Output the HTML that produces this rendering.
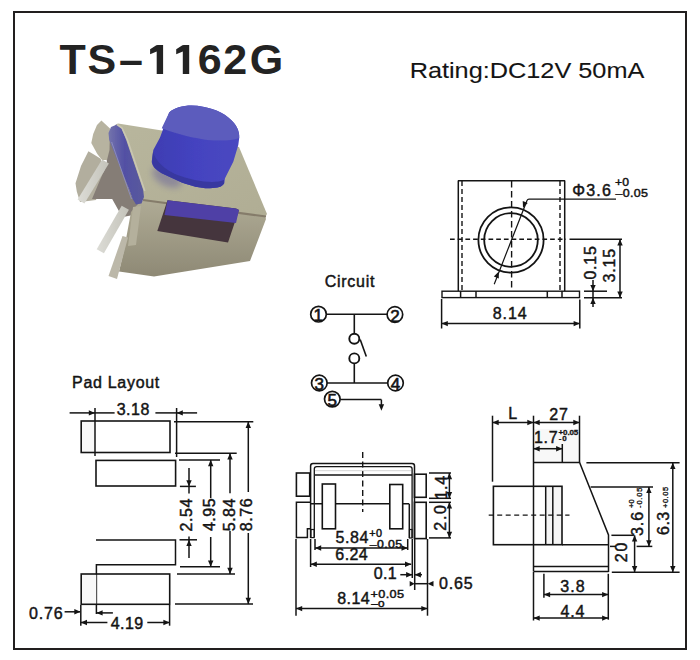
<!DOCTYPE html>
<html><head><meta charset="utf-8"><style>
html,body{margin:0;padding:0;background:#fff;}
svg{display:block;}
text{font-family:"Liberation Sans",sans-serif;fill:#141414;}
</style></head><body>
<svg width="700" height="660" viewBox="0 0 700 660">
<rect width="700" height="660" fill="#fff"/>
<defs>
<filter id="pb" x="-5%" y="-5%" width="110%" height="110%"><feGaussianBlur stdDeviation="0.75"/></filter>
<filter id="sb" x="-50%" y="-50%" width="200%" height="200%"><feGaussianBlur stdDeviation="3"/></filter>
<linearGradient id="topface" x1="0" y1="0" x2="1" y2="1">
<stop offset="0" stop-color="#b8b69d"/><stop offset="1" stop-color="#b0ad94"/></linearGradient>
<linearGradient id="frontface" x1="0" y1="0" x2="0" y2="1">
<stop offset="0" stop-color="#afab95"/><stop offset="1" stop-color="#8e8975"/></linearGradient>
<linearGradient id="btnside" x1="0" y1="0" x2="1" y2="0">
<stop offset="0" stop-color="#3e3db2"/><stop offset="0.5" stop-color="#4443c0"/><stop offset="1" stop-color="#4a48c0"/></linearGradient>
<linearGradient id="strip" x1="0" y1="0" x2="1" y2="0">
<stop offset="0" stop-color="#7474ac"/><stop offset="0.45" stop-color="#5250a4"/><stop offset="1" stop-color="#5a5a9c"/></linearGradient>
<linearGradient id="pin" x1="0" y1="0" x2="1" y2="0">
<stop offset="0" stop-color="#dcdcd6"/><stop offset="1" stop-color="#c4c3ba"/></linearGradient>
</defs>
<g filter="url(#pb)">
<!-- lower-left tab -->
<polygon points="88.4,151.2 93.9,154.6 100.7,158.7 104,175 96,200 80,202 76.8,191.4 75.5,183.2 81,166" fill="#b2ae9e"/>
<!-- left side face (dark) -->
<polygon points="107,129 133,199 140,204 133,215 123,217 118.6,210.5 112.2,199 92,199 100,180 107,164 106,150" fill="#857d76"/>
<!-- back upper-left tab -->
<polygon points="101.4,120.5 110,128.6 109.5,150 107,160 102,160 97.3,154 91.3,143 93.2,134.1 97,125" fill="#b7b3a0"/>
<!-- top face -->
<polygon points="115,125 118,123.5 165,131 205,138 239,147 267,214 265,217 143,200" fill="url(#topface)"/>
<!-- front face -->
<polygon points="143,200 265,216 266,219 250,261 154,276.5 119,271.5 124,250 131,212 138,204" fill="url(#frontface)"/>
<!-- front-left vertical edge highlight -->
<polygon points="133,207 141,206 136,245 128,246" fill="#b4b09c"/>
<!-- fold line -->
<polyline points="143,200 266,216.5" fill="none" stroke="#857c6b" stroke-width="2.2"/>
<!-- window -->
<polygon points="167.5,200.2 236,208.5 239,210 228,242.6 157.3,230.9" fill="#45353c"/>
<polygon points="167.5,200.2 236,208.5 239,210 236,223 164.5,215" fill="#4f40a6"/>
<!-- blue strip on left face -->
<polygon points="108.5,133 111,127 117,124.5 121,127 126.2,140 143.2,190 144,197 141.5,203.5 136,204.5 132.6,199 129.4,190 109.2,140" fill="url(#strip)"/>
<polyline points="111.6,142 131.5,199" fill="none" stroke="#8e90c0" stroke-width="0.9"/>
<polyline points="117,124.5 122,128 127.5,140 144.8,191" fill="none" stroke="#c9c6b2" stroke-width="1.6"/>

<!-- pins -->
<polygon points="102.1,159.4 108.9,163.6 84.4,203.6 77.6,199.4" fill="url(#pin)"/>
<polygon points="121.7,205.8 128.9,209.8 103.9,253.3 96.7,249.3" fill="url(#pin)"/>
<!-- lower vertical tab -->
<polygon points="122.5,236 128,237.5 117,279 108.5,276" fill="#bcb8a9"/>
<ellipse cx="167" cy="177" rx="16" ry="9" fill="#817d9a" opacity="0.75" filter="url(#sb)" transform="rotate(28 167 177)"/>
<!-- button -->
<path d="M169.2,112.5 C176,106 190,104 203,106.7 C215,108.5 228,115 234,123 C239,129 239.5,135 239.2,138 L238.3,145 L233.3,161.7 L225,178.3 L224.2,183.3 C222,187 218,188 210,188.3 C200,188.5 192,186 181.7,182.5 L161.7,173.3 C156,170 152,166 151.7,161.7 L153.3,150 L160,137.5 Z" fill="url(#btnside)"/>
<path d="M169.2,112.5 C176,106 190,104 203,106.7 C215,108.5 228,115 234,123 C239,129 239.5,135 239.2,138 C232,141 220,141 206.7,140 C195,138 182,136 161.7,128.3 Z" fill="#5b5bbd"/>
<path d="M153,152 C152,160 152,166 156,169 L161.7,173.3 L181.7,182.5 C192,186 200,188.5 210,188.3 C218,188 222,187 224.2,183.3 L224,180 C215,184 195,182 175,174 C165,169 157,163 153,152 Z" fill="#3838a0"/>
</g>

<rect x="14" y="12" width="672" height="637" fill="none" stroke="#221f1f" stroke-width="2"/>
<text x="59.4 87.6 119.0" y="74.3" font-size="43" font-weight="bold" style="fill:#232323">TS&#8211;</text>
<text x="197.8 223.2 249.7" y="74.3" font-size="43" font-weight="bold" style="fill:#232323">62G</text>
<path transform="translate(0 0)" d="M150.1,49.2 L156.3,45.3 Q157,44.9 157.8,44.9 H163.1 V74.0 H156.7 V51.4 L150.1,54.3 Z" fill="#232323"/>
<path transform="translate(26.1 0)" d="M150.1,49.2 L156.3,45.3 Q157,44.9 157.8,44.9 H163.1 V74.0 H156.7 V51.4 L150.1,54.3 Z" fill="#232323"/>
<text x="0" y="0" font-size="22" letter-spacing="0.00" stroke="#141414" stroke-width="0.1" transform="translate(409.67 78.20) scale(1.15 1)">Rating:DC12V 50mA</text>
<line x1="458.00" y1="180.70" x2="565.00" y2="180.70" stroke="#141414" stroke-width="1.5"/>
<line x1="458.30" y1="180.50" x2="458.30" y2="291.00" stroke="#141414" stroke-width="1.5"/>
<line x1="564.70" y1="180.50" x2="564.70" y2="291.00" stroke="#141414" stroke-width="1.5"/>
<line x1="462.00" y1="181.00" x2="462.00" y2="291.00" stroke="#141414" stroke-width="1.4" stroke-dasharray="5,3"/>
<line x1="560.00" y1="181.00" x2="560.00" y2="291.00" stroke="#141414" stroke-width="1.4" stroke-dasharray="5,3"/>
<line x1="511.60" y1="181.00" x2="511.60" y2="291.00" stroke="#141414" stroke-width="1.4" stroke-dasharray="6.5,3.5"/>
<line x1="450.00" y1="239.30" x2="566.00" y2="239.30" stroke="#141414" stroke-width="1.4" stroke-dasharray="4.7,3"/>
<line x1="569.50" y1="239.30" x2="622.00" y2="239.30" stroke="#141414" stroke-width="1.5"/>
<circle cx="511" cy="240" r="32.6" fill="none" stroke="#141414" stroke-width="1.8"/>
<circle cx="511" cy="240" r="26.8" fill="none" stroke="#141414" stroke-width="1.8"/>
<rect x="442" y="291.2" width="137.50" height="6.40" fill="none" stroke="#141414" stroke-width="1.4"/>
<line x1="460.60" y1="291.00" x2="460.60" y2="297.50" stroke="#141414" stroke-width="1.5"/>
<line x1="476.00" y1="291.00" x2="476.00" y2="297.50" stroke="#141414" stroke-width="1.5"/>
<line x1="547.30" y1="291.00" x2="547.30" y2="297.50" stroke="#141414" stroke-width="1.5"/>
<line x1="562.00" y1="291.00" x2="562.00" y2="297.50" stroke="#141414" stroke-width="1.5"/>
<line x1="441.60" y1="299.00" x2="441.60" y2="328.50" stroke="#141414" stroke-width="1.5"/>
<line x1="579.80" y1="299.50" x2="579.80" y2="328.50" stroke="#141414" stroke-width="1.5"/>
<line x1="441.60" y1="323.60" x2="579.80" y2="323.60" stroke="#141414" stroke-width="1.5"/>
<polygon points="441.60,323.60 447.80,320.90 447.80,326.30" fill="#141414"/>
<polygon points="579.80,323.60 573.60,326.30 573.60,320.90" fill="#141414"/>
<text x="0" y="0" font-size="16" letter-spacing="0.87" stroke="#141414" stroke-width="0.45" transform="translate(492.85 319.29) scale(1.0 1)">8.14</text>
<path d="M494.2,284.2 L527,200.5 Q527.6,199.2 529,199.2 L616,199.2" fill="none" stroke="#141414" stroke-width="1.2"/>
<polygon points="523.00,207.80 522.73,201.04 527.77,203.00" fill="#141414"/>
<polygon points="498.60,271.80 498.87,278.56 493.83,276.60" fill="#141414"/>
<text x="0" y="0" font-size="16" letter-spacing="1.20" stroke="#141414" stroke-width="0.45" transform="translate(572.24 195.79) scale(1.0 1)">Φ3.6</text>
<text x="0" y="0" font-size="11.158068965517216" letter-spacing="0.30" stroke="#141414" stroke-width="0.45" transform="translate(614.96 186.14) scale(1.0879463902173625 1)">+0</text>
<text x="0" y="0" font-size="11.299310344827594" letter-spacing="0.30" stroke="#141414" stroke-width="0.45" transform="translate(615.55 197.34) scale(1.1033957956815357 1)">–0.05</text>
<line x1="620.00" y1="239.30" x2="620.00" y2="297.80" stroke="#141414" stroke-width="1.5"/>
<polygon points="620.00,239.30 622.70,245.50 617.30,245.50" fill="#141414"/>
<polygon points="620.00,297.80 617.30,291.60 622.70,291.60" fill="#141414"/>
<line x1="584.00" y1="291.20" x2="607.00" y2="291.20" stroke="#141414" stroke-width="1.5"/>
<line x1="584.00" y1="297.80" x2="622.00" y2="297.80" stroke="#141414" stroke-width="1.5"/>
<line x1="593.00" y1="280.00" x2="593.00" y2="307.00" stroke="#141414" stroke-width="1.5"/>
<polygon points="593.00,291.20 590.30,285.00 595.70,285.00" fill="#141414"/>
<polygon points="593.00,297.80 595.70,304.00 590.30,304.00" fill="#141414"/>
<text x="595.69" y="279.57" font-size="16" letter-spacing="0.75" stroke="#141414" stroke-width="0.45" transform="rotate(-90 595.69 279.57)">0.15</text>
<text x="614.59" y="282.56" font-size="16" letter-spacing="0.85" stroke="#141414" stroke-width="0.45" transform="rotate(-90 614.59 282.56)">3.15</text>
<text x="0" y="0" font-size="16" letter-spacing="0.75" stroke="#141414" stroke-width="0.45" transform="translate(324.64 287.39) scale(1.0 1)">Circuit</text>
<circle cx="318.5" cy="314.2" r="7.8" fill="none" stroke="#141414" stroke-width="1.7"/>
<text x="313.54" y="321.30" font-size="17" stroke="#141414" stroke-width="0.6">1</text>
<circle cx="394.9" cy="314.5" r="7.8" fill="none" stroke="#141414" stroke-width="1.7"/>
<text x="390.17" y="321.60" font-size="17" stroke="#141414" stroke-width="0.6">2</text>
<circle cx="319.3" cy="383" r="7.8" fill="none" stroke="#141414" stroke-width="1.7"/>
<text x="314.62" y="390.10" font-size="17" stroke="#141414" stroke-width="0.6">3</text>
<circle cx="395.5" cy="383" r="7.8" fill="none" stroke="#141414" stroke-width="1.7"/>
<text x="390.83" y="390.10" font-size="17" stroke="#141414" stroke-width="0.6">4</text>
<circle cx="332.3" cy="399.1" r="7.8" fill="none" stroke="#141414" stroke-width="1.7"/>
<text x="327.59" y="406.20" font-size="17" stroke="#141414" stroke-width="0.6">5</text>
<line x1="326.20" y1="314.30" x2="387.20" y2="314.30" stroke="#141414" stroke-width="1.5"/>
<line x1="354.30" y1="314.00" x2="354.30" y2="333.50" stroke="#141414" stroke-width="1.6"/>
<circle cx="354.3" cy="338.7" r="5" fill="none" stroke="#141414" stroke-width="1.9"/>
<circle cx="354.3" cy="358.4" r="5" fill="none" stroke="#141414" stroke-width="1.9"/>
<line x1="360.20" y1="339.50" x2="366.30" y2="356.40" stroke="#141414" stroke-width="1.6"/>
<line x1="354.30" y1="363.40" x2="354.30" y2="383.00" stroke="#141414" stroke-width="1.6"/>
<line x1="327.00" y1="383.00" x2="387.80" y2="383.00" stroke="#141414" stroke-width="1.5"/>
<line x1="340.20" y1="399.60" x2="381.40" y2="399.60" stroke="#141414" stroke-width="1.5"/>
<line x1="381.40" y1="399.60" x2="381.40" y2="405.00" stroke="#141414" stroke-width="1.5"/>
<polygon points="381.40,410.80 378.70,404.30 384.10,404.30" fill="#141414"/>
<text x="0" y="0" font-size="16" letter-spacing="0.70" stroke="#141414" stroke-width="0.45" transform="translate(72.04 388.30) scale(1.0 1)">Pad Layout</text>
<rect x="81.5" y="421.5" width="13.5" height="30.5" fill="#f8f8f8"/>
<rect x="81.2" y="421" width="88.80" height="31.50" fill="none" stroke="#141414" stroke-width="1.6"/>
<line x1="95.00" y1="408.00" x2="95.00" y2="456.00" stroke="#141414" stroke-width="1.5"/>
<rect x="96" y="460.4" width="79.60" height="25.60" fill="none" stroke="#141414" stroke-width="1.6"/>
<polyline points="96.00,540.00 175.50,540.00 175.50,564.70 96.40,564.70 96.40,614.00" fill="none" stroke="#141414" stroke-width="1.5" />
<rect x="81.5" y="574.5" width="14.8" height="29.5" fill="#f8f8f8"/>
<rect x="81.2" y="574" width="88.50" height="30.30" fill="none" stroke="#141414" stroke-width="1.6"/>
<line x1="69.60" y1="412.90" x2="95.00" y2="412.90" stroke="#141414" stroke-width="1.5"/>
<polygon points="95.00,412.90 88.80,415.60 88.80,410.20" fill="#141414"/>
<line x1="176.60" y1="408.00" x2="176.60" y2="457.00" stroke="#141414" stroke-width="1.5"/>
<line x1="176.60" y1="412.90" x2="197.10" y2="412.90" stroke="#141414" stroke-width="1.5"/>
<polygon points="176.60,412.90 182.80,410.20 182.80,415.60" fill="#141414"/>
<text x="0" y="0" font-size="16" letter-spacing="0.52" stroke="#141414" stroke-width="0.45" transform="translate(116.64 415.29) scale(1.0 1)">3.18</text>
<line x1="95.00" y1="412.90" x2="114.60" y2="412.90" stroke="#141414" stroke-width="1.5"/>
<line x1="155.40" y1="412.90" x2="176.60" y2="412.90" stroke="#141414" stroke-width="1.5"/>
<line x1="174.00" y1="421.70" x2="253.30" y2="421.70" stroke="#141414" stroke-width="1.5"/>
<line x1="175.00" y1="453.30" x2="236.70" y2="453.30" stroke="#141414" stroke-width="1.5"/>
<line x1="179.00" y1="460.00" x2="220.00" y2="460.00" stroke="#141414" stroke-width="1.5"/>
<line x1="179.90" y1="486.40" x2="195.90" y2="486.40" stroke="#141414" stroke-width="1.5"/>
<line x1="179.50" y1="539.80" x2="197.00" y2="539.80" stroke="#141414" stroke-width="1.5"/>
<line x1="180.00" y1="566.70" x2="220.00" y2="566.70" stroke="#141414" stroke-width="1.5"/>
<line x1="177.00" y1="574.00" x2="235.00" y2="574.00" stroke="#141414" stroke-width="1.5"/>
<line x1="175.00" y1="604.00" x2="253.00" y2="604.00" stroke="#141414" stroke-width="1.5"/>
<line x1="248.30" y1="421.70" x2="248.30" y2="492.00" stroke="#141414" stroke-width="1.5"/>
<line x1="248.30" y1="533.00" x2="248.30" y2="604.00" stroke="#141414" stroke-width="1.5"/>
<polygon points="248.30,421.70 251.00,427.90 245.60,427.90" fill="#141414"/>
<polygon points="248.30,604.00 245.60,597.80 251.00,597.80" fill="#141414"/>
<line x1="230.00" y1="453.30" x2="230.00" y2="493.30" stroke="#141414" stroke-width="1.5"/>
<line x1="230.00" y1="531.00" x2="230.00" y2="574.00" stroke="#141414" stroke-width="1.5"/>
<polygon points="230.00,453.30 232.70,459.50 227.30,459.50" fill="#141414"/>
<polygon points="230.00,574.00 227.30,567.80 232.70,567.80" fill="#141414"/>
<line x1="210.70" y1="460.00" x2="210.70" y2="498.20" stroke="#141414" stroke-width="1.5"/>
<line x1="210.70" y1="537.00" x2="210.70" y2="566.70" stroke="#141414" stroke-width="1.5"/>
<polygon points="210.70,460.00 213.40,466.20 208.00,466.20" fill="#141414"/>
<polygon points="210.70,566.70 208.00,560.50 213.40,560.50" fill="#141414"/>
<line x1="189.00" y1="468.00" x2="189.00" y2="493.50" stroke="#141414" stroke-width="1.5"/>
<polygon points="189.00,486.40 186.30,480.20 191.70,480.20" fill="#141414"/>
<line x1="189.00" y1="536.50" x2="189.00" y2="558.00" stroke="#141414" stroke-width="1.5"/>
<polygon points="189.00,539.80 191.70,546.00 186.30,546.00" fill="#141414"/>
<text x="192.19" y="531.45" font-size="16" letter-spacing="0.58" stroke="#141414" stroke-width="0.45" transform="rotate(-90 192.19 531.45)">2.54</text>
<text x="215.09" y="531.02" font-size="16" letter-spacing="0.50" stroke="#141414" stroke-width="0.45" transform="rotate(-90 215.09 531.02)">4.95</text>
<text x="235.19" y="531.29" font-size="16" letter-spacing="0.52" stroke="#141414" stroke-width="0.45" transform="rotate(-90 235.19 531.29)">5.84</text>
<text x="251.99" y="531.35" font-size="16" letter-spacing="0.62" stroke="#141414" stroke-width="0.45" transform="rotate(-90 251.99 531.35)">8.76</text>
<line x1="80.80" y1="605.00" x2="80.80" y2="625.70" stroke="#141414" stroke-width="1.5"/>
<line x1="169.60" y1="605.00" x2="169.60" y2="625.70" stroke="#141414" stroke-width="1.5"/>
<line x1="80.80" y1="622.50" x2="107.40" y2="622.50" stroke="#141414" stroke-width="1.5"/>
<polygon points="80.80,622.50 87.00,619.80 87.00,625.20" fill="#141414"/>
<line x1="147.30" y1="622.50" x2="169.60" y2="622.50" stroke="#141414" stroke-width="1.5"/>
<polygon points="169.60,622.50 163.40,625.20 163.40,619.80" fill="#141414"/>
<text x="0" y="0" font-size="16" letter-spacing="0.43" stroke="#141414" stroke-width="0.45" transform="translate(110.78 629.39) scale(1.0 1)">4.19</text>
<line x1="64.60" y1="611.80" x2="80.00" y2="611.80" stroke="#141414" stroke-width="1.5"/>
<polygon points="80.50,611.80 74.30,614.50 74.30,609.10" fill="#141414"/>
<line x1="96.40" y1="612.90" x2="112.90" y2="612.90" stroke="#141414" stroke-width="1.5"/>
<polygon points="96.40,612.90 102.60,610.20 102.60,615.60" fill="#141414"/>
<text x="0" y="0" font-size="16" letter-spacing="0.83" stroke="#141414" stroke-width="0.45" transform="translate(29.12 619.09) scale(1.0 1)">0.76</text>
<line x1="362.70" y1="452.00" x2="362.70" y2="512.00" stroke="#141414" stroke-width="1.4" stroke-dasharray="6,3.5"/>
<path d="M310.6,538 V466 Q310.6,463.6 313,463.6 H412 Q414.5,463.6 414.5,466 V538.6" fill="none" stroke="#141414" stroke-width="1.5"/>
<path d="M314.3,537 V469 Q314.3,466.6 316.7,466.6 H409.7 Q412.1,466.6 412.1,469 V538" fill="none" stroke="#141414" stroke-width="1.3"/>
<line x1="315.00" y1="470.70" x2="411.00" y2="470.70" stroke="#c8c8c8" stroke-width="0.8"/>
<line x1="315.00" y1="475.00" x2="412.00" y2="475.00" stroke="#141414" stroke-width="1.5"/>
<line x1="409.30" y1="504.00" x2="409.30" y2="538.00" stroke="#141414" stroke-width="1.5"/>
<rect x="296.4" y="473" width="13.30" height="23.20" fill="none" stroke="#141414" stroke-width="1.6"/>
<polyline points="310.50,502.30 296.40,502.30 296.40,537.60 307.40,537.60 307.40,528.80 310.50,528.80" fill="none" stroke="#141414" stroke-width="1.5" />
<rect x="310.9" y="529.5" width="3.30" height="8.10" fill="none" stroke="#141414" stroke-width="1.2"/>
<line x1="310.50" y1="503.80" x2="409.30" y2="503.80" stroke="#141414" stroke-width="1.5"/>
<rect x="322.3" y="484" width="13.20" height="44.80" fill="#fff" stroke="#141414" stroke-width="1.6"/>
<rect x="389.8" y="484.5" width="12.90" height="44.30" fill="#fff" stroke="#141414" stroke-width="1.6"/>
<rect x="414.5" y="474.2" width="11.70" height="23.10" fill="none" stroke="#141414" stroke-width="1.6"/>
<rect x="414.5" y="502.3" width="11.70" height="36.30" fill="none" stroke="#141414" stroke-width="1.6"/>
<rect x="409.5" y="529.5" width="2.60" height="8.50" fill="none" stroke="#141414" stroke-width="1.2"/>
<line x1="429.00" y1="473.00" x2="451.00" y2="473.00" stroke="#141414" stroke-width="1.5"/>
<line x1="429.00" y1="498.30" x2="451.00" y2="498.30" stroke="#141414" stroke-width="1.5"/>
<line x1="429.00" y1="502.30" x2="451.00" y2="502.30" stroke="#141414" stroke-width="1.5"/>
<line x1="429.00" y1="537.90" x2="451.00" y2="537.90" stroke="#141414" stroke-width="1.5"/>
<line x1="449.40" y1="473.00" x2="449.40" y2="498.30" stroke="#141414" stroke-width="1.5"/>
<polygon points="449.40,473.00 452.10,479.20 446.70,479.20" fill="#141414"/>
<polygon points="449.40,498.30 446.70,492.10 452.10,492.10" fill="#141414"/>
<line x1="449.40" y1="502.30" x2="449.40" y2="537.90" stroke="#141414" stroke-width="1.5"/>
<polygon points="449.40,502.30 452.10,508.50 446.70,508.50" fill="#141414"/>
<polygon points="449.40,537.90 446.70,531.70 452.10,531.70" fill="#141414"/>
<text x="446.95" y="499.57" font-size="16" letter-spacing="0.77" stroke="#141414" stroke-width="0.45" transform="rotate(-90 446.95 499.57)">1.4</text>
<text x="446.09" y="530.65" font-size="16" letter-spacing="1.64" stroke="#141414" stroke-width="0.45" transform="rotate(-90 446.09 530.65)">2.0</text>
<line x1="296.00" y1="539.00" x2="296.00" y2="615.70" stroke="#141414" stroke-width="1.5"/>
<line x1="310.60" y1="539.00" x2="310.60" y2="567.00" stroke="#141414" stroke-width="1.5"/>
<line x1="315.00" y1="539.00" x2="315.00" y2="550.00" stroke="#141414" stroke-width="1.5"/>
<line x1="407.70" y1="539.00" x2="407.70" y2="550.00" stroke="#141414" stroke-width="1.5"/>
<line x1="412.30" y1="539.00" x2="412.30" y2="578.00" stroke="#141414" stroke-width="1.5"/>
<line x1="414.70" y1="539.00" x2="414.70" y2="590.00" stroke="#141414" stroke-width="1.5"/>
<line x1="427.50" y1="539.00" x2="427.50" y2="615.70" stroke="#141414" stroke-width="1.5"/>
<line x1="315.00" y1="548.00" x2="407.70" y2="548.00" stroke="#141414" stroke-width="1.5"/>
<polygon points="315.00,548.00 321.20,545.30 321.20,550.70" fill="#141414"/>
<polygon points="407.70,548.00 401.50,550.70 401.50,545.30" fill="#141414"/>
<text x="0" y="0" font-size="16" letter-spacing="0.56" stroke="#141414" stroke-width="0.45" transform="translate(335.51 543.39) scale(1.0 1)">5.84</text>
<text x="0" y="0" font-size="10.028137931034482" letter-spacing="0.30" stroke="#141414" stroke-width="0.45" transform="translate(369.32 537.15) scale(1.0781354262654528 1)">+0</text>
<text x="0" y="0" font-size="10.028137931034482" letter-spacing="0.30" stroke="#141414" stroke-width="0.45" transform="translate(369.85 548.05) scale(1.225181185012622 1)">–0.05</text>
<line x1="310.60" y1="564.30" x2="411.20" y2="564.30" stroke="#141414" stroke-width="1.5"/>
<polygon points="310.60,564.30 316.80,561.60 316.80,567.00" fill="#141414"/>
<polygon points="411.20,564.30 405.00,567.00 405.00,561.60" fill="#141414"/>
<text x="0" y="0" font-size="16" letter-spacing="0.41" stroke="#141414" stroke-width="0.45" transform="translate(335.34 560.49) scale(1.0 1)">6.24</text>
<line x1="400.30" y1="574.70" x2="412.30" y2="574.70" stroke="#141414" stroke-width="1.5"/>
<polygon points="412.30,574.70 406.10,577.40 406.10,572.00" fill="#141414"/>
<line x1="414.70" y1="574.70" x2="422.00" y2="574.70" stroke="#141414" stroke-width="1.5"/>
<polygon points="414.70,574.70 420.90,572.00 420.90,577.40" fill="#141414"/>
<text x="0" y="0" font-size="16" letter-spacing="0.38" stroke="#141414" stroke-width="0.45" transform="translate(373.72 579.39) scale(1.0 1)">0.1</text>
<line x1="414.70" y1="583.70" x2="427.50" y2="583.70" stroke="#141414" stroke-width="1.5"/>
<polygon points="414.70,583.70 409.70,586.40 409.70,581.00" fill="#141414"/>
<polygon points="427.50,583.70 433.50,581.00 433.50,586.40" fill="#141414"/>
<text x="0" y="0" font-size="16" letter-spacing="0.82" stroke="#141414" stroke-width="0.45" transform="translate(439.12 588.99) scale(1.0 1)">0.65</text>
<line x1="296.00" y1="608.60" x2="427.50" y2="608.60" stroke="#141414" stroke-width="1.5"/>
<polygon points="296.00,608.60 302.20,605.90 302.20,611.30" fill="#141414"/>
<polygon points="427.50,608.60 421.30,611.30 421.30,605.90" fill="#141414"/>
<text x="0" y="0" font-size="16" letter-spacing="0.41" stroke="#141414" stroke-width="0.45" transform="translate(337.25 603.99) scale(1.0 1)">8.14</text>
<text x="0" y="0" font-size="10.875586206896584" letter-spacing="0.30" stroke="#141414" stroke-width="0.45" transform="translate(370.53 597.64) scale(1.1647831839479486 1)">+0.05</text>
<text x="0" y="0" font-size="9.321931034482757" letter-spacing="0.30" stroke="#141414" stroke-width="0.45" transform="translate(371.15 607.36) scale(1.2615615253851644 1)">–0</text>
<rect x="534" y="429" width="45" height="33" fill="#f8f8f8"/>
<line x1="492.50" y1="415.70" x2="492.50" y2="481.70" stroke="#141414" stroke-width="1.5"/>
<line x1="533.50" y1="415.70" x2="533.50" y2="571.50" stroke="#141414" stroke-width="1.5"/>
<line x1="579.50" y1="415.70" x2="579.50" y2="462.40" stroke="#141414" stroke-width="1.5"/>
<line x1="492.50" y1="422.50" x2="533.50" y2="422.50" stroke="#141414" stroke-width="1.5"/>
<polygon points="492.50,422.50 498.70,419.80 498.70,425.20" fill="#141414"/>
<polygon points="533.50,422.50 527.30,425.20 527.30,419.80" fill="#141414"/>
<line x1="533.50" y1="422.50" x2="579.50" y2="422.50" stroke="#141414" stroke-width="1.5"/>
<polygon points="533.50,422.50 539.70,419.80 539.70,425.20" fill="#141414"/>
<polygon points="579.50,422.50 573.30,425.20 573.30,419.80" fill="#141414"/>
<text x="0" y="0" font-size="16" letter-spacing="0.00" stroke="#141414" stroke-width="0.45" transform="translate(508.14 419.45) scale(1.0 1)">L</text>
<text x="0" y="0" font-size="16" letter-spacing="0.91" stroke="#141414" stroke-width="0.45" transform="translate(549.15 420.15) scale(1.0 1)">27</text>
<line x1="533.50" y1="448.70" x2="562.30" y2="448.70" stroke="#141414" stroke-width="1.5"/>
<polygon points="533.50,448.70 539.70,446.00 539.70,451.40" fill="#141414"/>
<polygon points="562.30,448.70 556.10,451.40 556.10,446.00" fill="#141414"/>
<line x1="562.30" y1="444.00" x2="562.30" y2="462.40" stroke="#141414" stroke-width="1.5"/>
<text x="0" y="0" font-size="16" letter-spacing="0.69" stroke="#141414" stroke-width="0.45" transform="translate(533.93 443.25) scale(1.0 1)">1.7</text>
<text x="0" y="0" font-size="8" font-weight="bold" letter-spacing="-0.17" stroke="#141414" stroke-width="0.3" transform="translate(558.61 434.77) scale(1.0 1)">+0.05</text>
<text x="0" y="0" font-size="8" font-weight="bold" letter-spacing="0.93" stroke="#141414" stroke-width="0.3" transform="translate(558.64 441.27) scale(1.0 1)">-0</text>
<polyline points="533.50,462.50 579.60,462.50 608.50,535.00 608.50,572.00" fill="none" stroke="#141414" stroke-width="1.5" />
<rect x="546" y="487" width="16" height="57" fill="#f5f5f5"/>
<rect x="493.4" y="486.3" width="68.60" height="58.40" fill="none" stroke="#141414" stroke-width="1.6"/>
<line x1="545.70" y1="486.30" x2="545.70" y2="544.70" stroke="#141414" stroke-width="1.5"/>
<line x1="552.80" y1="486.30" x2="552.80" y2="544.70" stroke="#141414" stroke-width="1.5"/>
<line x1="488.70" y1="515.10" x2="569.50" y2="515.10" stroke="#141414" stroke-width="1.4" stroke-dasharray="5,3.5"/>
<line x1="562.00" y1="544.70" x2="608.50" y2="544.70" stroke="#141414" stroke-width="1.5"/>
<line x1="533.50" y1="566.50" x2="608.50" y2="566.50" stroke="#141414" stroke-width="1.5"/>
<line x1="533.50" y1="571.60" x2="608.50" y2="571.60" stroke="#141414" stroke-width="1.5"/>
<line x1="586.40" y1="462.70" x2="679.60" y2="462.70" stroke="#141414" stroke-width="1.5"/>
<line x1="590.60" y1="486.90" x2="653.00" y2="486.90" stroke="#141414" stroke-width="1.5"/>
<line x1="611.40" y1="535.30" x2="633.90" y2="535.30" stroke="#141414" stroke-width="1.5"/>
<line x1="610.00" y1="546.40" x2="616.10" y2="546.40" stroke="#141414" stroke-width="1.5"/>
<line x1="636.60" y1="546.40" x2="652.30" y2="546.40" stroke="#141414" stroke-width="1.5"/>
<line x1="611.80" y1="572.30" x2="679.60" y2="572.30" stroke="#141414" stroke-width="1.5"/>
<line x1="672.80" y1="462.70" x2="672.80" y2="572.30" stroke="#141414" stroke-width="1.5"/>
<polygon points="672.80,462.70 675.50,468.90 670.10,468.90" fill="#141414"/>
<polygon points="672.80,572.30 670.10,566.10 675.50,566.10" fill="#141414"/>
<line x1="648.90" y1="486.90" x2="648.90" y2="546.40" stroke="#141414" stroke-width="1.5"/>
<polygon points="648.90,486.90 651.60,493.10 646.20,493.10" fill="#141414"/>
<polygon points="648.90,546.40 646.20,540.20 651.60,540.20" fill="#141414"/>
<line x1="634.60" y1="535.30" x2="634.60" y2="572.30" stroke="#141414" stroke-width="1.5"/>
<polygon points="634.60,535.30 637.30,541.50 631.90,541.50" fill="#141414"/>
<polygon points="634.60,572.30 631.90,566.10 637.30,566.10" fill="#141414"/>
<text x="668.69" y="534.96" font-size="16" letter-spacing="0.49" stroke="#141414" stroke-width="0.45" transform="rotate(-90 668.69 534.96)">6.3</text>
<text x="668.18" y="507.92" font-size="7.5" letter-spacing="0.50" stroke="#141414" stroke-width="0.35" transform="rotate(-90 668.18 507.92)">+0.05</text>
<text x="643.49" y="536.06" font-size="16" letter-spacing="1.04" stroke="#141414" stroke-width="0.45" transform="rotate(-90 643.49 536.06)">3.6</text>
<text x="634.08" y="507.92" font-size="7.5" letter-spacing="0.11" stroke="#141414" stroke-width="0.35" transform="rotate(-90 634.08 507.92)">+0</text>
<text x="641.58" y="507.88" font-size="7.5" letter-spacing="0.79" stroke="#141414" stroke-width="0.35" transform="rotate(-90 641.58 507.88)">-0.05</text>
<text x="627.09" y="562.25" font-size="16" letter-spacing="1.83" stroke="#141414" stroke-width="0.45" transform="rotate(-90 627.09 562.25)">20</text>
<line x1="533.50" y1="572.00" x2="533.50" y2="620.50" stroke="#141414" stroke-width="1.5"/>
<line x1="543.90" y1="573.80" x2="543.90" y2="597.70" stroke="#141414" stroke-width="1.5"/>
<line x1="608.30" y1="573.80" x2="608.30" y2="619.70" stroke="#141414" stroke-width="1.5"/>
<line x1="543.90" y1="594.60" x2="608.30" y2="594.60" stroke="#141414" stroke-width="1.5"/>
<polygon points="543.90,594.60 550.10,591.90 550.10,597.30" fill="#141414"/>
<polygon points="608.30,594.60 602.10,597.30 602.10,591.90" fill="#141414"/>
<line x1="533.50" y1="618.10" x2="608.30" y2="618.10" stroke="#141414" stroke-width="1.5"/>
<polygon points="533.50,618.10 539.70,615.40 539.70,620.80" fill="#141414"/>
<polygon points="608.30,618.10 602.10,620.80 602.10,615.40" fill="#141414"/>
<text x="0" y="0" font-size="16" letter-spacing="1.03" stroke="#141414" stroke-width="0.45" transform="translate(560.34 591.99) scale(1.0 1)">3.8</text>
<text x="0" y="0" font-size="16" letter-spacing="0.80" stroke="#141414" stroke-width="0.45" transform="translate(560.58 616.85) scale(1.0 1)">4.4</text>
</svg>
</body></html>
